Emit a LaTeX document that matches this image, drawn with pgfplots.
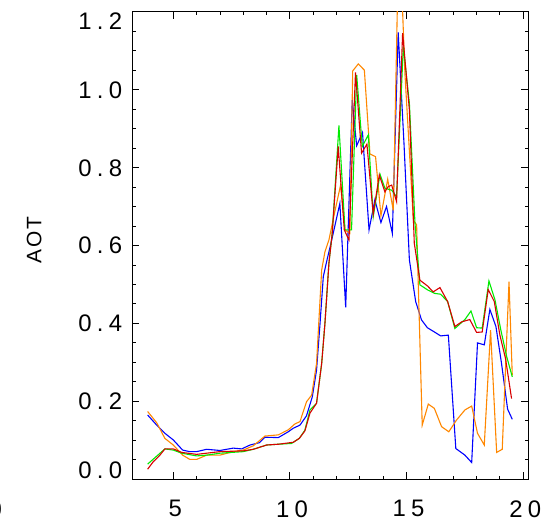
\documentclass[border=0pt]{standalone}
\usepackage{pgfplots}
\pgfplotsset{compat=1.18}
\usepackage{fontspec}
\newfontfamily\lab{Liberation Sans}[LetterSpace=22]
\newfontfamily\labb{Liberation Sans}[LetterSpace=8]
\definecolor{cblue}{RGB}{0,0,255}
\definecolor{cred}{RGB}{215,0,0}
\definecolor{cgreen}{RGB}{0,235,0}
\definecolor{corange}{RGB}{255,135,0}
\begin{document}
\begin{tikzpicture}
\useasboundingbox (-132.3bp,-43.7bp) rectangle (410.7bp,479.3bp);
\begin{axis}[
  at={(0,0)}, anchor=south west,
  scale only axis, width=396bp, height=467.6bp,
  xmin=3.243, xmax=20.217, ymin=0, ymax=1.2,
  xtick={5,10,15,20}, xticklabels={5,10,15,20},
  minor x tick num=4,
  ytick={0,0.2,0.4,0.6,0.8,1.0,1.2},
  yticklabels={\raisebox{9bp}{0.0},0.2,0.4,0.6,0.8,1.0,\raisebox{-9bp}{1.2}},
  minor y tick num=3,
  tick align=inside,
  major tick length=7bp, minor tick length=3.5bp,
  tick style={black, line width=0.9bp},
  axis line style={line width=1.2bp},
  /pgf/number format/assume math mode=true,
  tick label style={font=\lab\fontsize{24}{24}\selectfont},
  xticklabel style={anchor=north, inner sep=0pt, yshift=-21bp, xshift=2bp},
  yticklabel style={anchor=base east, inner sep=0pt, xshift=-10bp, yshift=-8.5bp},
  ylabel={AOT},
  ylabel style={font=\labb\fontsize{21}{21}\selectfont, at={(axis description cs:-0.248,0.512)}, anchor=center},
  every axis plot/.append style={line width=1.1bp, mark=none},
]
\addplot[cblue] coordinates {
(3.90,0.165) (4.29,0.139) (4.64,0.118) (5.00,0.101) (5.40,0.075) (5.70,0.071)
(6.00,0.071) (6.43,0.077) (7.00,0.074) (7.57,0.080) (7.93,0.078) (8.29,0.088)
(8.69,0.094) (8.93,0.108) (9.50,0.107) (9.93,0.122) (10.14,0.131) (10.43,0.139)
(10.71,0.163) (10.96,0.212) (11.14,0.280) (11.29,0.400) (11.43,0.520) (11.57,0.558)
(11.79,0.614) (12.14,0.708) (12.39,0.441) (12.67,0.973) (12.86,0.856) (13.11,0.890)
(13.39,0.640) (13.64,0.717) (13.90,0.659) (14.14,0.700) (14.39,0.631) (14.64,1.147)
(14.89,0.860) (15.12,0.563) (15.39,0.456) (15.64,0.409) (15.89,0.389) (16.14,0.380)
(16.46,0.368) (16.79,0.370) (17.11,0.079) (17.50,0.062) (17.79,0.043) (18.04,0.350)
(18.33,0.345) (18.57,0.436) (18.83,0.392) (19.07,0.297) (19.33,0.180) (19.53,0.154)
};
\addplot[corange] coordinates {
(3.90,0.174) (4.29,0.145) (4.64,0.105) (5.00,0.088) (5.40,0.062) (5.71,0.051)
(6.00,0.051) (6.43,0.062) (7.00,0.062) (7.57,0.071) (8.00,0.075) (8.43,0.086)
(8.93,0.111) (9.50,0.114) (9.93,0.127) (10.21,0.142) (10.43,0.148) (10.71,0.199)
(10.93,0.216) (11.14,0.297) (11.36,0.537) (11.50,0.584) (11.67,0.614) (11.90,0.680)
(12.17,0.755) (12.36,0.640) (12.57,0.631) (12.69,1.048) (12.93,1.066) (13.19,1.050)
(13.43,0.835) (13.67,0.828) (13.90,0.676) (14.19,0.770) (14.43,0.690) (14.68,1.440)
(14.93,1.040) (15.29,0.665) (15.43,0.653) (15.67,0.139) (15.93,0.193) (16.19,0.182)
(16.50,0.135) (16.81,0.122) (17.14,0.152) (17.50,0.178) (17.79,0.188) (18.04,0.118)
(18.33,0.088) (18.60,0.383) (18.86,0.069) (19.10,0.077) (19.39,0.507) (19.53,0.267)
};
\addplot[cgreen] coordinates {
(3.90,0.039) (4.30,0.060) (4.64,0.078) (5.00,0.075) (5.36,0.067) (6.00,0.060)
(6.43,0.062) (7.00,0.067) (8.00,0.071) (8.43,0.077) (9.00,0.088) (9.50,0.090)
(10.07,0.092) (10.40,0.105) (10.64,0.126) (10.86,0.178) (11.14,0.195) (11.36,0.297)
(11.50,0.400) (11.67,0.554) (11.81,0.630) (12.10,0.908) (12.36,0.640) (12.64,0.640)
(12.86,1.038) (13.10,0.854) (13.36,0.884) (13.57,0.674) (13.86,0.783) (14.07,0.747)
(14.36,0.742) (14.57,0.725) (14.86,1.110) (15.12,0.965) (15.36,0.657) (15.57,0.499)
(15.90,0.486) (16.21,0.477) (16.46,0.475) (16.76,0.456) (17.07,0.387) (17.50,0.410)
(17.76,0.432) (18.00,0.389) (18.24,0.388) (18.53,0.509) (18.79,0.460) (19.04,0.383)
(19.29,0.315) (19.53,0.263)
};
\addplot[cred] coordinates {
(3.90,0.026) (4.14,0.045) (4.40,0.060) (4.64,0.078) (5.00,0.078) (5.36,0.069)
(6.00,0.064) (6.43,0.067) (7.00,0.071) (8.00,0.073) (8.43,0.077) (9.00,0.088)
(9.50,0.090) (10.14,0.095) (10.40,0.105) (10.64,0.124) (10.86,0.170) (11.14,0.195)
(11.36,0.297) (11.50,0.400) (11.67,0.554) (11.81,0.630) (12.07,0.854) (12.33,0.640)
(12.53,0.614) (12.81,1.044) (13.07,0.837) (13.30,0.860) (13.57,0.680) (13.83,0.781)
(14.07,0.738) (14.21,0.751) (14.36,0.755) (14.57,0.713) (14.83,1.145) (15.12,0.948)
(15.33,0.606) (15.57,0.511) (15.90,0.496) (16.14,0.481) (16.43,0.492) (16.76,0.456)
(17.07,0.392) (17.36,0.404) (17.71,0.410) (18.00,0.377) (18.24,0.378) (18.50,0.487)
(18.76,0.456) (19.00,0.370) (19.24,0.310) (19.50,0.207)
};
\end{axis}
\node[font=\lab\fontsize{24}{24}\selectfont, anchor=north, inner sep=0pt] at (-137bp,-21bp) {0};
\end{tikzpicture}
\end{document}
